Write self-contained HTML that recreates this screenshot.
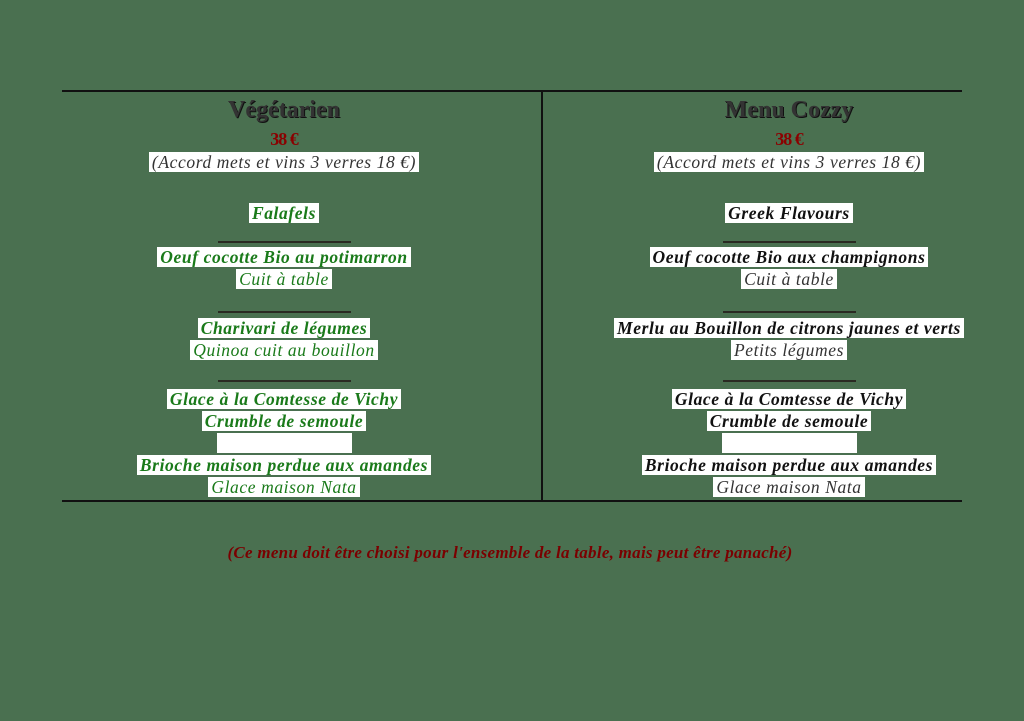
<!DOCTYPE html>
<html><head><meta charset="utf-8"><style>
html,body{margin:0;padding:0}
body{width:1024px;height:721px;background:#4a7050;position:relative;overflow:hidden;font-family:"Liberation Serif",serif}
.l{position:absolute;width:600px;text-align:center;font-style:italic;font-size:17.5px;letter-spacing:0.6px;line-height:20px;white-space:nowrap}
.l span{background:#fff;padding:0 3px}
.L{left:-16px}.R{left:489px}
.g{color:#1a7a1a}.k{color:#111}
.b{font-weight:bold}
.t{font-style:normal;font-weight:bold;font-size:24px;letter-spacing:0;line-height:28px;color:#333;text-shadow:1px 1px 0 #111}
.p{font-style:normal;font-weight:bold;font-size:18px;color:#8b0000;letter-spacing:-1px}
.a{color:#333}
.sep{position:absolute;height:2px;background:#2a2a22;width:133px}
.rule{position:absolute;background:#111}
.blank{position:absolute;background:#fff;height:20px}
</style></head><body>
<div class="rule" style="left:62px;top:90px;width:900px;height:2px"></div>
<div class="rule" style="left:62px;top:500px;width:900px;height:2px"></div>
<div class="rule" style="left:541px;top:90px;width:2px;height:412px"></div>

<div class="l L t" style="top:96px">Végétarien</div>
<div class="l L p" style="top:129px">38 €</div>
<div class="l L a" style="top:152px"><span>(Accord mets et vins 3 verres 18 €)</span></div>
<div class="l L g b" style="top:203px"><span>Falafels</span></div>
<div class="sep" style="left:218px;top:241px"></div>
<div class="l L g b" style="top:247px"><span>Oeuf cocotte Bio au potimarron</span></div>
<div class="l L g" style="top:269px"><span>Cuit à table</span></div>
<div class="sep" style="left:218px;top:311px"></div>
<div class="l L g b" style="top:318px"><span>Charivari de légumes</span></div>
<div class="l L g" style="top:340px"><span>Quinoa cuit au bouillon</span></div>
<div class="sep" style="left:218px;top:380px"></div>
<div class="l L g b" style="top:389px"><span>Glace à la Comtesse de Vichy</span></div>
<div class="l L g b" style="top:411px"><span>Crumble de semoule</span></div>
<div class="blank" style="left:217px;top:433px;width:135px"></div>
<div class="l L g b" style="top:455px"><span>Brioche maison perdue aux amandes</span></div>
<div class="l L g" style="top:477px"><span>Glace maison Nata</span></div>

<div class="l R t" style="top:96px">Menu Cozzy</div>
<div class="l R p" style="top:129px">38 €</div>
<div class="l R a" style="top:152px"><span>(Accord mets et vins 3 verres 18 €)</span></div>
<div class="l R k b" style="top:203px"><span>Greek Flavours</span></div>
<div class="sep" style="left:723px;top:241px"></div>
<div class="l R k b" style="top:247px"><span>Oeuf cocotte Bio aux champignons</span></div>
<div class="l R a" style="top:269px"><span>Cuit à table</span></div>
<div class="sep" style="left:723px;top:311px"></div>
<div class="l R k b" style="top:318px"><span>Merlu au Bouillon de citrons jaunes et verts</span></div>
<div class="l R a" style="top:340px"><span>Petits légumes</span></div>
<div class="sep" style="left:723px;top:380px"></div>
<div class="l R k b" style="top:389px"><span>Glace à la Comtesse de Vichy</span></div>
<div class="l R k b" style="top:411px"><span>Crumble de semoule</span></div>
<div class="blank" style="left:722px;top:433px;width:135px"></div>
<div class="l R k b" style="top:455px"><span>Brioche maison perdue aux amandes</span></div>
<div class="l R a" style="top:477px"><span>Glace maison Nata</span></div>

<div style="position:absolute;left:0;width:1020px;top:543px;text-align:center;font-style:italic;font-weight:bold;font-size:17px;color:#7a0000;letter-spacing:0.27px">(Ce menu doit être choisi pour l'ensemble de la table, mais peut être panaché)</div>
</body></html>
